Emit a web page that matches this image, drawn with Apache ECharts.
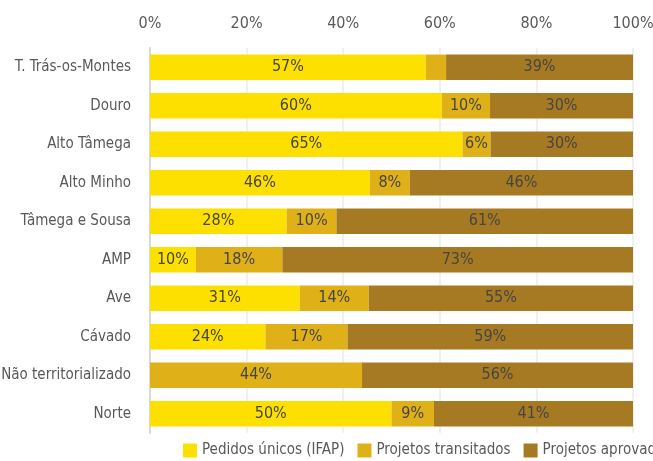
<!DOCTYPE html>
<html lang="pt" style="height: 100%">
<head>
  <meta charset="utf-8">
</head>
<body style="height: 100%; margin: 0; background: #fff">
  <div id="container" style="width: 653px; height: 461px"></div>
  <script type="text/javascript" src="https://fastly.jsdelivr.net/npm/echarts@6/dist/echarts.min.js"></script>
  <script type="text/javascript">
    // categorias (de cima para baixo)
    let categorias = ['T. Trás-os-Montes', 'Douro', 'Alto Tâmega', 'Alto Minho', 'Tâmega e Sousa',
      'AMP', 'Ave', 'Cávado', 'Não territorializado', 'Norte']
    // % pedidos únicos (IFAP)
    let pedidosUnicos = [57.1, 60.4, 64.7, 45.5, 28.3, 9.5, 31.0, 23.9, 0, 50.0]
    // % projetos transitados
    let projetosTransitados = [4.2, 10.0, 5.8, 8.3, 10.3, 17.9, 14.3, 17.0, 43.9, 8.8]
    // % projetos aprovados
    let projetosAprovados = [38.7, 29.6, 29.5, 46.2, 61.4, 72.6, 54.7, 59.1, 56.1, 41.2]
    let nomesSeries = ['Pedidos únicos (IFAP)', 'Projetos transitados', 'Projetos aprovados']
    let cores = ['#FEE000', '#DFB018', '#A67A22']

    var font = '"Liberation Sans Narrow", "DejaVu Sans Condensed", sans-serif';

    var dom = document.getElementById('container');
    var myChart = echarts.init(dom, null, { renderer: 'canvas' });

    function serie(nome, dados, cor) {
      return {
        name: nome,
        type: 'bar',
        stack: 'total',
        barCategoryGap: '34%',
        itemStyle: { color: cor },
        label: {
          show: true,
          color: '#454545',
          fontFamily: font,
          fontSize: 16,
          formatter: function (p) {
            return p.value < 5 ? '' : Math.round(p.value) + '%';
          }
        },
        data: dados
      };
    }

    var option = {
      textStyle: { fontFamily: font },
      legend: {
        left: 178,
        bottom: -2,
        width: 1000,
        itemWidth: 14,
        itemHeight: 14,
        itemGap: 13,
        icon: 'rect',
        textStyle: { color: '#595959', fontFamily: font, fontSize: 15 },
        data: nomesSeries
      },
      grid: {
        left: 150,
        right: 20,
        top: 48,
        bottom: 28,
        outerBoundsMode: 'none'
      },
      xAxis: {
        type: 'value',
        position: 'top',
        min: 0,
        max: 100,
        interval: 20,
        axisLabel: { formatter: '{value}%', color: '#595959', fontFamily: font, fontSize: 16, margin: 16 },
        splitLine: { lineStyle: { color: '#EBEBEB', width: 1.5 } },
        axisLine: { show: false },
        axisTick: { show: false }
      },
      yAxis: {
        type: 'category',
        inverse: true,
        data: categorias,
        axisLine: { lineStyle: { color: '#D9D9D9', width: 2 } },
        axisTick: { show: false },
        axisLabel: { color: '#595959', fontFamily: font, fontSize: 15, margin: 19 }
      },
      series: [
        serie(nomesSeries[0], pedidosUnicos, cores[0]),
        serie(nomesSeries[1], projetosTransitados, cores[1]),
        serie(nomesSeries[2], projetosAprovados, cores[2])
      ]
    };

    myChart.setOption(option);
    window.addEventListener('resize', myChart.resize);
  </script>
</body>
</html>
